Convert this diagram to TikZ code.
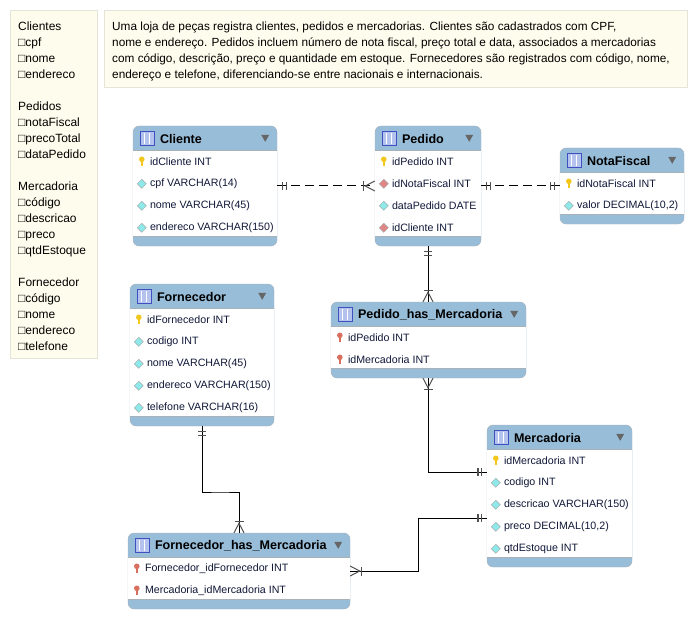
\documentclass[tikz,border=0pt]{standalone}
\usepackage{fontspec}
\setmainfont{Liberation Sans}
\usetikzlibrary{arrows.meta}

\definecolor{headblue}{HTML}{98BDD8}
\definecolor{edgegrey}{HTML}{A9B2B8}
\definecolor{notefill}{HTML}{FEFCEC}
\definecolor{noteedge}{HTML}{E4E4D8}
\definecolor{rowink}{HTML}{101838}
\definecolor{tipgrey}{HTML}{505050}
\definecolor{keyyellow}{HTML}{F2C81E}
\definecolor{keyred}{HTML}{D9705F}
\definecolor{colcyan}{HTML}{8EEAEA}
\definecolor{colred}{HTML}{DF8585}
\definecolor{iconblue}{HTML}{4050C0}
\definecolor{iconfill}{HTML}{B4C2EE}

\pgfdeclarearrow{name=ERone, drawing code={
	\pgfsetdash{}{0pt}\pgfsetlinewidth{1.3bp}\pgfsetstrokecolor{tipgrey}
	\pgfpathmoveto{\pgfpoint{-5.5bp}{-4bp}}\pgfpathlineto{\pgfpoint{-5.5bp}{4bp}}
	\pgfpathmoveto{\pgfpoint{-9bp}{-4bp}}\pgfpathlineto{\pgfpoint{-9bp}{4bp}}
	\pgfusepathqstroke}}
\pgfdeclarearrow{name=ERcrow, drawing code={
	\pgfsetdash{}{0pt}\pgfsetlinewidth{1bp}\pgfsetstrokecolor{tipgrey}
	\pgfpathmoveto{\pgfpoint{0bp}{-5bp}}\pgfpathlineto{\pgfpoint{-9.5bp}{0bp}}\pgfpathlineto{\pgfpoint{0bp}{5bp}}
	\pgfusepathqstroke
	\pgfsetlinewidth{1.3bp}
	\pgfpathmoveto{\pgfpoint{-11.5bp}{-4.5bp}}\pgfpathlineto{\pgfpoint{-11.5bp}{4.5bp}}
	\pgfusepathqstroke}}

\tikzset{
	entity/.style={draw=edgegrey, fill=headblue, rounded corners=6bp, inner sep=0pt},
	entitytitle/.style={anchor=west, inner sep=0pt, font=\fontsize{12.6}{15}\bfseries\selectfont},
	rowtext/.style={anchor=west, inner sep=0pt, text=rowink, font=\fontsize{10.7}{13}\selectfont},
	notebox/.style={draw=noteedge, fill=notefill, anchor=north west, inner sep=0pt},
	notetext/.style={anchor=north west, align=left, inner sep=0pt},
	solidlink/.style={draw=black, line width=1bp},
	dashlink/.style={draw=black, line width=1bp, dash pattern=on 9bp off 5bp},
	pics/pkkey/.style={code={
		\fill[#1] (-1.2,-1) rectangle (1.2,4.5);
		\fill[#1] (0,-2.5) circle (2.8);
	}},
	pics/pkkey/.default=keyyellow,
	pics/fkkey/.style={code={\pic {pkkey=keyred};}},
	pics/plaincol/.style={code={
		\draw[draw=gray!70, fill=#1] (-4.5,0) -- (0,-4.5) -- (4.5,0) -- (0,4.5) -- cycle;
	}},
	pics/plaincol/.default=colcyan,
	pics/fkcol/.style={code={\pic {plaincol=colred};}},
	pics/tableicon/.style={code={
		\draw[draw=iconblue, fill=iconfill] (0,0) rectangle (14,14);
		\fill[iconblue] (0,0) rectangle (14,1.5);
		\draw[draw=white] (4.5,2) -- (4.5,13) (9.5,2) -- (9.5,13);
	}},
}

% name, centre x, centre y, width, height, title, rows
\newcommand{\entity}[7]{
	\node (#1) [entity, minimum width=#4bp, minimum height=#5bp] at (#2,#3) {};
	\fill[white] ([yshift=-24bp]#1.north west) rectangle ([yshift=10bp]#1.south east);
	\draw[edgegrey] ([yshift=-24bp]#1.north west) -- ([yshift=-24bp]#1.north east)
		([yshift=10bp]#1.south west) -- ([yshift=10bp]#1.south east);
	\pic at ([xshift=7bp,yshift=-5bp]#1.north west) {tableicon};
	\node (#1title) [entitytitle] at ([xshift=27bp,yshift=-13bp]#1.north west) {#6};
	\fill[gray!80!black] ([xshift=-16bp,yshift=-9bp]#1.north east) -- ++(8,0) -- ++(-4,7) -- cycle;
	\foreach \kind/\coltext [count=\i] in {#7} {
		\node (#1row\i) [rowtext] at ([xshift=17bp,yshift={-(14+22*\i)*1bp}]#1.north west) {\coltext};
		\pic at ([xshift=-8bp]#1row\i.west) {\kind};
	}
}

\begin{document}
\begin{tikzpicture}[x=1bp,y=-1bp]
	\useasboundingbox (0,0) rectangle (696,618);

	\node (notelist) at (10,10) [notebox, minimum width=87bp, minimum height=348bp] {};
	\node (notelisttext) at (18,21.5) [notetext, font=\fontsize{12}{16.05}\selectfont] {Clientes\\□cpf\\□nome\\□endereco\\[16bp]Pedidos\\□notaFiscal\\□precoTotal\\□dataPedido\\[16bp]Mercadoria\\□código\\□descricao\\□preco\\□qtdEstoque\\[16bp]Fornecedor\\□código\\□nome\\□endereco\\□telefone};
	\node (notetop) at (104,10) [notebox, minimum width=583bp, minimum height=77bp] {};
	\node (notetoptext) at (112,21.5) [notetext, font=\fontsize{11.85}{16}\selectfont] {Uma loja de peças registra clientes, pedidos e mercadorias. Clientes são cadastrados com CPF,\\nome e endereço. Pedidos incluem número de nota fiscal, preço total e data, associados a mercadorias\\com código, descrição, preço e quantidade em estoque. Fornecedores são registrados com código, nome,\\endereço e telefone, diferenciando-se entre nacionais e internacionais.};

	\entity{cliente}{205}{186}{144}{120}{Cliente}{pkkey/idCliente INT, plaincol/cpf VARCHAR(14), plaincol/nome VARCHAR(45), plaincol/endereco VARCHAR(150)}
	\entity{pedido}{428}{186}{106}{120}{Pedido}{pkkey/idPedido INT, fkcol/idNotaFiscal INT, plaincol/dataPedido DATE, fkcol/idCliente INT}
	\entity{notafiscal}{622}{186}{124}{76}{NotaFiscal}{pkkey/idNotaFiscal INT, plaincol/{valor DECIMAL(10,2)}}
	\entity{fornecedor}{202}{355}{144}{142}{Fornecedor}{pkkey/idFornecedor INT, plaincol/codigo INT, plaincol/nome VARCHAR(45), plaincol/endereco VARCHAR(150), plaincol/telefone VARCHAR(16)}
	\entity{phm}{428.5}{340}{195}{76}{Pedido\_has\_Mercadoria}{fkkey/idPedido INT, fkkey/idMercadoria INT}
	\entity{mercadoria}{559.5}{496}{145}{142}{Mercadoria}{pkkey/idMercadoria INT, plaincol/codigo INT, plaincol/descricao VARCHAR(150), plaincol/{preco DECIMAL(10,2)}, plaincol/qtdEstoque INT}
	\entity{fhm}{239}{571}{222}{76}{Fornecedor\_has\_Mercadoria}{fkkey/Fornecedor\_idFornecedor INT, fkkey/Mercadoria\_idMercadoria INT}

	\coordinate (mercupper) at (487,472);
	\coordinate (merclower) at (487,518);
	\coordinate (turnlower) at (418,518);
	\coordinate (turnforn) at (220,492);

	\draw [dashlink, {ERone}-{ERcrow}] (cliente.east) -- (pedido.west);
	\draw [dashlink, {ERone}-{ERone}] (pedido.east) -- (notafiscal.west);
	\draw [solidlink, {ERone}-{ERcrow}] (pedido.south) -- (pedido.south |- phm.north);
	\draw [solidlink, {ERcrow}-{ERone}] (pedido.south |- phm.south) |- (mercupper);
	\draw [solidlink, {ERone}-{ERcrow}] (merclower) -- (turnlower) |- (fhm.east);
	\draw [solidlink, {ERone}-{ERcrow}] (fornecedor.south) |- (turnforn) -| (fhm.north);
\end{tikzpicture}
\end{document}
